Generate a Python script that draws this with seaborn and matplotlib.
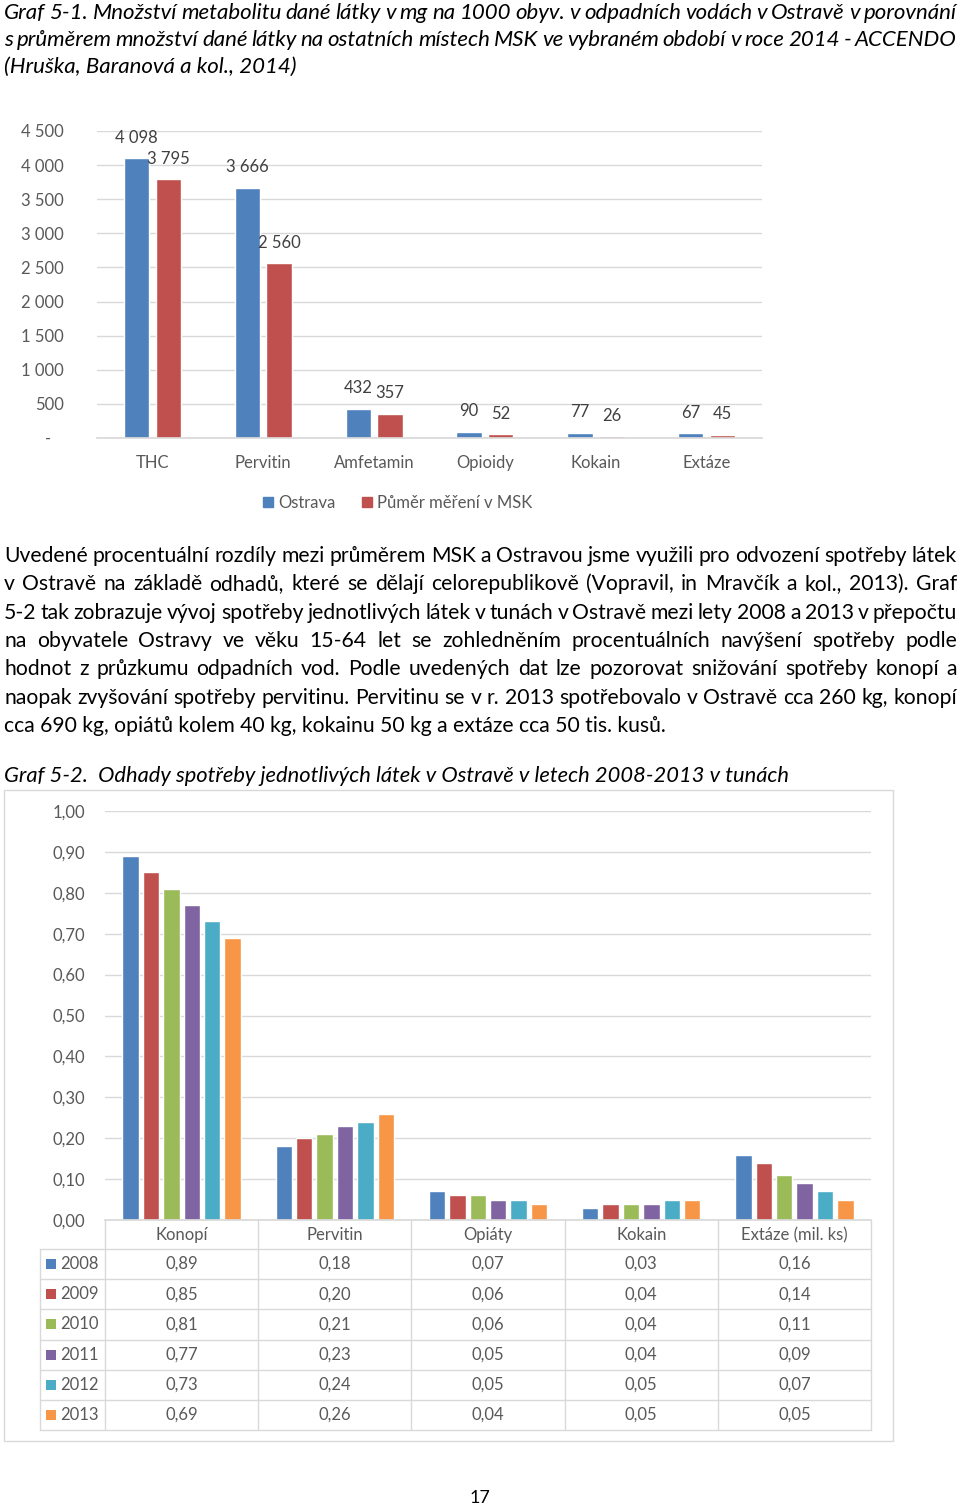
import numpy as np
import pandas as pd
import matplotlib
matplotlib.use("Agg")
import matplotlib.pyplot as plt
import seaborn as sns
from matplotlib.patches import Patch, Rectangle

W, H = 960, 1509

# Graf 5-1 data
drugs1 = ["THC", "Pervitin", "Amfetamin", "Opioidy", "Kokain", "Extáze"]
ostrava = [4098, 3666, 432, 90, 77, 67]
msk_avg = [3795, 2560, 357, 52, 26, 45]
series1 = ["Ostrava", "Půměr měření v MSK"]

# Graf 5-2 data (tuny, extáze v mil. ks)
drugs2 = ["Konopí", "Pervitin", "Opiáty", "Kokain", "Extáze (mil. ks)"]
years = ["2008", "2009", "2010", "2011", "2012", "2013"]
v2008 = [0.89, 0.18, 0.07, 0.03, 0.16]
v2009 = [0.85, 0.20, 0.06, 0.04, 0.14]
v2010 = [0.81, 0.21, 0.06, 0.04, 0.11]
v2011 = [0.77, 0.23, 0.05, 0.04, 0.09]
v2012 = [0.73, 0.24, 0.05, 0.05, 0.07]
v2013 = [0.69, 0.26, 0.04, 0.05, 0.05]

title_lines = [
    "Graf 5-1. Množství metabolitu dané látky v mg na 1000 obyv. v odpadních vodách v Ostravě v porovnání",
    "s průměrem množství dané látky na ostatních místech MSK ve vybraném období v roce 2014 -  ACCENDO",
    "(Hruška, Baranová a kol., 2014)",
]
para_lines = [
    "Uvedené procentuální rozdíly mezi průměrem MSK a Ostravou jsme využili pro odvození spotřeby látek",
    "v Ostravě na základě odhadů, které se dělají celorepublikově (Vopravil, in Mravčík a kol., 2013). Graf",
    "5-2 tak zobrazuje vývoj spotřeby jednotlivých látek v tunách v Ostravě mezi lety 2008 a 2013 v přepočtu",
    "na obyvatele Ostravy ve věku 15-64 let se zohledněním procentuálních navýšení spotřeby podle",
    "hodnot z průzkumu odpadních vod. Podle uvedených dat lze pozorovat snižování spotřeby konopí a",
    "naopak zvyšování spotřeby pervitinu. Pervitinu se v r. 2013 spotřebovalo v Ostravě cca 260 kg, konopí",
    "cca 690 kg, opiátů kolem 40 kg, kokainu 50 kg a extáze cca 50 tis. kusů.",
]
caption = "Graf 5-2.  Odhady spotřeby jednotlivých látek v Ostravě v letech 2008-2013 v tunách"

colors1 = ["#4F81BD", "#C0504D"]
colors2 = ["#4F81BD", "#C0504D", "#9BBB59", "#8064A2", "#4BACC6", "#F79646"]
grid_c = "#D9D9D9"
txt_c = "#595959"

sns.set_theme(style="white")
plt.rcParams["font.family"] = ["Lato", "DejaVu Sans"]

fig = plt.figure(figsize=(W / 100, H / 100), dpi=100)
renderer = fig.canvas.get_renderer()

# page axes in pixel coordinates for the surrounding text and the table
page = fig.add_axes([0, 0, 1, 1])
page.set_xlim(0, W)
page.set_ylim(H, 0)
page.axis("off")


def px_rect(l, t, r, b):
    return [l / W, 1 - b / H, (r - l) / W, (b - t) / H]


def text_width(s, size, style="normal"):
    t = page.text(0, 0, s, fontsize=size, style=style)
    w = t.get_window_extent(renderer).width
    t.remove()
    return w


def fit_size(s, width, style="normal"):
    return 10 * width / text_width(s, 10, style)


def max_just_size(s, width, style="normal", min_gap=0.16):
    # largest size for which the words still fit with a minimal gap (in em)
    words = s.split()
    ww = sum(text_width(w, 10, style) for w in words) / 10
    return width / (ww + (len(words) - 1) * min_gap * 100 / 72)


def put_line(s, y, x0, x1, size, justify, style="normal"):
    if not justify:
        page.text(x0, y, s, fontsize=size, style=style, va="baseline", color="black")
        return
    words = s.split()
    widths = [text_width(w, size, style) for w in words]
    gap = (x1 - x0 - sum(widths)) / (len(words) - 1)
    x = x0
    for w, ww in zip(words, widths):
        page.text(x, y, w, fontsize=size, style=style, va="baseline", color="black")
        x += ww + gap


# --- title of graf 5-1
ts = fit_size(title_lines[2], 293, "italic")
ts = min([ts] + [max_just_size(l, 953, "italic") for l in title_lines[:2]])
for i, (line, y) in enumerate(zip(title_lines, [19, 46, 73])):
    put_line(line, y, 4, 957, ts, i < 2, "italic")

# --- graf 5-1
ax1 = fig.add_axes(px_rect(97, 131, 762, 438))
ax1.set_facecolor("none")
df1 = pd.DataFrame({
    "drug": drugs1 * 2,
    "series": [series1[0]] * len(drugs1) + [series1[1]] * len(drugs1),
    "value": ostrava + msk_avg,
})
sns.barplot(data=df1, x="drug", y="value", hue="series", palette=colors1,
            width=0.57, gap=0.2, ax=ax1, legend=False, saturation=1)
ax1.set_ylim(0, 4500)
yt = np.arange(0, 4501, 500)
ax1.set_yticks(yt)
ax1.set_yticklabels(["-   "] + [f"{v:,}".replace(",", " ") for v in yt[1:]])
ax1.yaxis.grid(True, color=grid_c, lw=1)
ax1.set_axisbelow(True)
for sp in ["top", "right", "left"]:
    ax1.spines[sp].set_visible(False)
ax1.spines["bottom"].set_color(grid_c)
ax1.tick_params(axis="y", length=0, pad=24, labelsize=12, labelcolor=txt_c)
ax1.tick_params(axis="x", length=0, pad=12, labelsize=12, labelcolor=txt_c)
ax1.set_xlabel("")
ax1.set_ylabel("")
for cont, vals in zip(ax1.containers, [ostrava, msk_avg]):
    ax1.bar_label(cont, labels=[f"{v:,}".replace(",", " ") for v in vals],
                  padding=9, fontsize=12, color="#404040")
handles = [Patch(color=c) for c in colors1]
ax1.legend(handles, series1, loc="center", bbox_to_anchor=(398 / W, 1 - 503 / H),
           bbox_transform=fig.transFigure, ncol=2, frameon=False, fontsize=12,
           handlelength=0.6, handleheight=0.6, handletextpad=0.3, columnspacing=1.6,
           labelcolor=txt_c)

# --- paragraph
ps = fit_size(para_lines[-1], 662)
ps = min([ps] + [max_just_size(l, 953) for l in para_lines[:-1]])
for i, line in enumerate(para_lines):
    put_line(line, 562 + 28.3 * i, 4, 957, ps, i < len(para_lines) - 1)

# --- caption
cs = fit_size(caption, 785, "italic")
put_line(caption, 782, 4, 789, cs, False, "italic")

# --- graf 5-2
page.add_patch(Rectangle((4, 790), 889, 651, fill=False, edgecolor=grid_c, lw=1))
ax2 = fig.add_axes(px_rect(105, 811, 871, 1220))
ax2.set_facecolor("none")
values2 = [v2008, v2009, v2010, v2011, v2012, v2013]
df2 = pd.DataFrame({
    "drug": [d for _ in years for d in drugs2],
    "year": [y for y in years for _ in drugs2],
    "value": [v for row in values2 for v in row],
})
sns.barplot(data=df2, x="drug", y="value", hue="year", palette=colors2,
            width=0.8, gap=0.2, ax=ax2, legend=False, saturation=1)
ax2.set_ylim(0, 1.0)
yt2 = np.round(np.arange(0, 1.01, 0.1), 2)
ax2.set_yticks(yt2)
ax2.set_yticklabels([f"{v:.2f}".replace(".", ",") for v in yt2])
ax2.yaxis.grid(True, color=grid_c, lw=1)
ax2.set_axisbelow(True)
for sp in ["top", "right", "left"]:
    ax2.spines[sp].set_visible(False)
ax2.spines["bottom"].set_color(grid_c)
ax2.tick_params(axis="y", length=0, pad=14, labelsize=12, labelcolor=txt_c)
ax2.set_xticklabels([])
ax2.tick_params(axis="x", length=0)
ax2.set_xlabel("")
ax2.set_ylabel("")

# data table under graf 5-2
col_x = np.linspace(105, 871, len(drugs2) + 1)
row_y = np.linspace(1249, 1430, len(years) + 1)
for x in col_x:
    page.plot([x, x], [1220, 1430], color=grid_c, lw=1)
page.plot([40, 40], [1249, 1430], color=grid_c, lw=1)
for y in row_y:
    page.plot([40, 871], [y, y], color=grid_c, lw=1)
for j, d in enumerate(drugs2):
    page.text((col_x[j] + col_x[j + 1]) / 2, 1235, d, ha="center", va="center",
              fontsize=12, color=txt_c)
for i, (yr, row) in enumerate(zip(years, values2)):
    yc = (row_y[i] + row_y[i + 1]) / 2
    page.add_patch(Rectangle((46, yc - 5), 10, 10, color=colors2[i], lw=0))
    page.text(60, yc, yr, ha="left", va="center", fontsize=12, color=txt_c)
    for j, v in enumerate(row):
        page.text((col_x[j] + col_x[j + 1]) / 2, yc, f"{v:.2f}".replace(".", ","),
                  ha="center", va="center", fontsize=12, color=txt_c)

# page number
page.text(480, 1498, "17", ha="center", va="center", fontsize=13, color="black")

fig.savefig("out.png", dpi=100)
